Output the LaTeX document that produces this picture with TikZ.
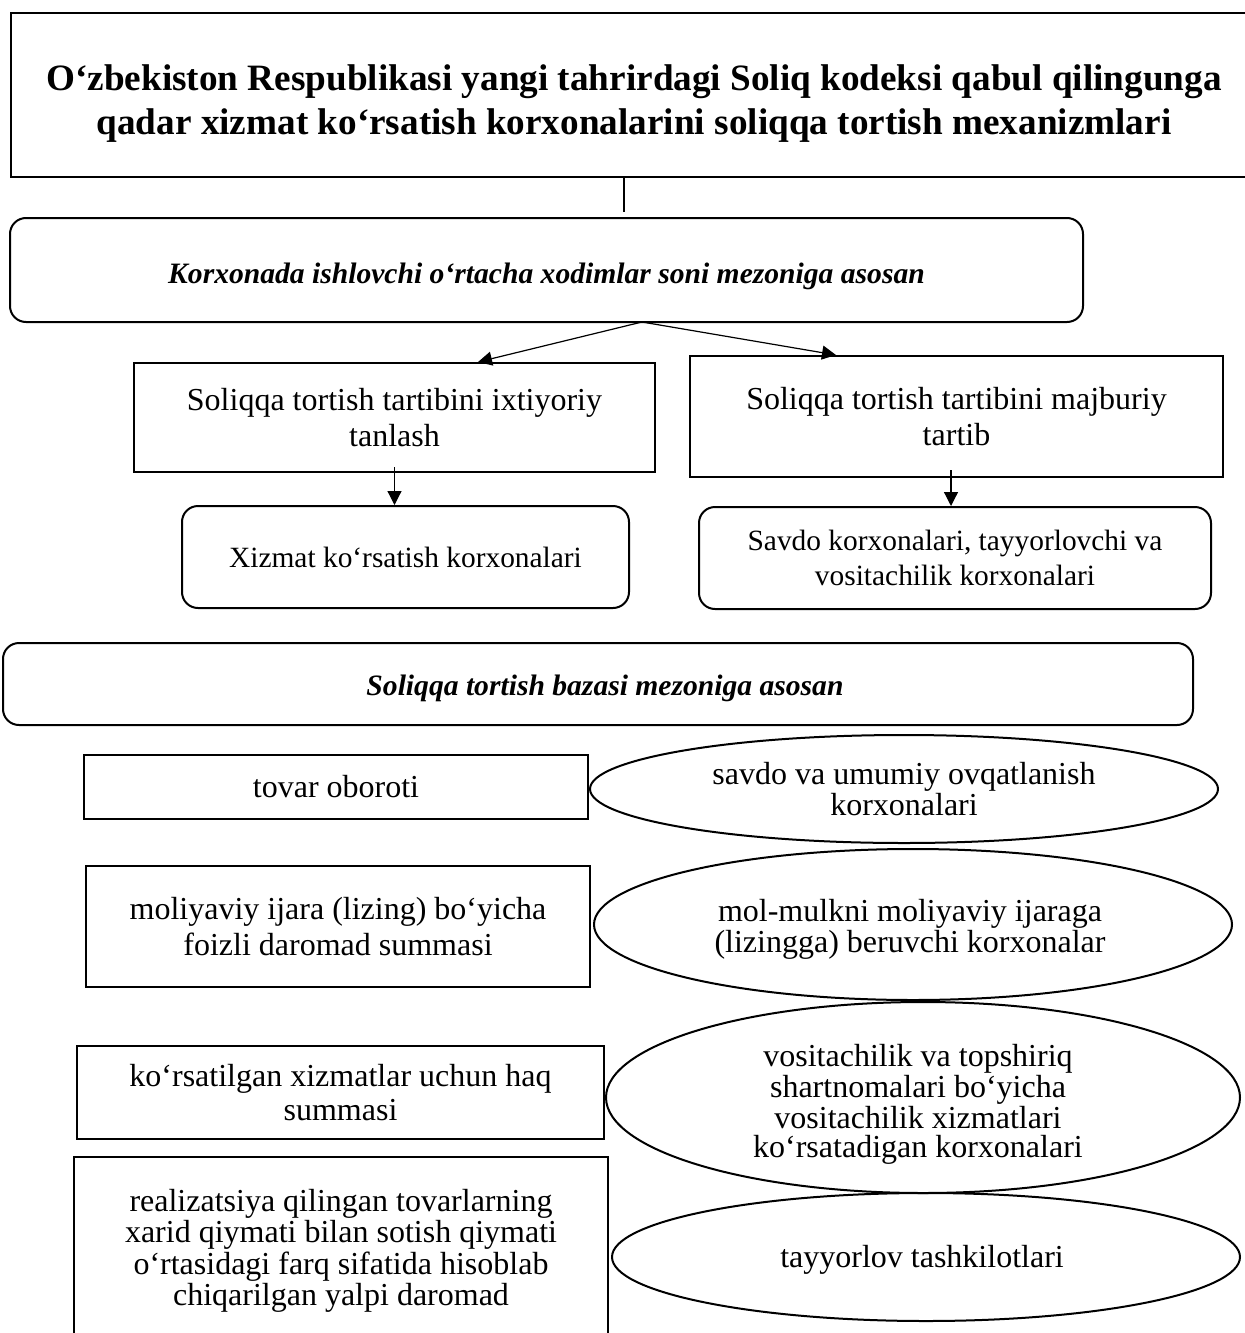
\documentclass[tikz,border=0pt]{standalone}
\usepackage{fontspec}
\setmainfont{Liberation Serif}
\usetikzlibrary{arrows.meta,shapes.geometric,calc}
\begin{document}
\begin{tikzpicture}[x=0.5pt,y=-0.5pt,
  frame/.style={draw,line width=1pt,inner sep=0pt,align=center,font=\fontsize{16}{18}\selectfont},
  roundframe/.style={frame,rounded corners=8pt,font=\fontsize{14.7}{17.5}\selectfont},
  oval/.style={draw,ellipse,line width=1pt,inner sep=0pt,align=center,font=\fontsize{16}{14}\selectfont},
  caption/.style={inner sep=0pt,align=center},
  link/.style={line width=0.6pt},
  arr/.style={link,-{Triangle[length=7pt,width=7pt]}}]
\useasboundingbox (0,0) rectangle (1244,1333);
\fill[white] (0,0) rectangle (1244,1333);

% heading
\node[frame,minimum width=622.5pt,minimum height=82pt] (title) at (633.5,95) {};
\node[caption,font=\bfseries\fontsize{18.6}{22}\selectfont] (titletext) at (634,104)
  {O‘zbekiston Respublikasi yangi tahrirdagi Soliq kodeksi qabul qilingunga\\
   qadar xizmat ko‘rsatish korxonalarini soliqqa tortish mexanizmlari};

% first criterion
\node[roundframe,minimum width=536.5pt,minimum height=52pt] (crit1) at (546.5,270) {};
\node[caption,font=\bfseries\itshape\fontsize{14.8}{17}\selectfont] (crit1text) at (546.5,276)
  {Korxonada ishlovchi o‘rtacha xodimlar soni mezoniga asosan};

\node[frame,minimum width=260.5pt,minimum height=54.5pt] (vol) at (394.5,417.5)
  {Soliqqa tortish tartibini ixtiyoriy\\tanlash};
\node[frame,minimum width=266.5pt,minimum height=60.5pt] (mand) at (956.5,416.5)
  {Soliqqa tortish tartibini majburiy\\tartib};

\node[roundframe,minimum width=223.5pt,minimum height=51pt] (serv) at (405.5,557)
  {Xizmat ko‘rsatish korxonalari};
\node[roundframe,minimum width=256pt,minimum height=51pt] (trade) at (955,558)
  {Savdo korxonalari, tayyorlovchi va\\vositachilik korxonalari};

% second criterion
\node[roundframe,minimum width=595pt,minimum height=41pt] (crit2) at (598,684) {};
\node[caption,font=\bfseries\itshape\fontsize{14.8}{17}\selectfont] (crit2text) at (605,688)
  {Soliqqa tortish bazasi mezoniga asosan};

\node[frame,minimum width=252pt,minimum height=32pt] (b1) at (336,787)
  {tovar oboroti};
\node[oval,minimum width=314pt,minimum height=54pt] (e1) at (904,789)
  {savdo va umumiy ovqatlanish\\korxonalari};

\node[frame,minimum width=252pt,minimum height=60.5pt] (b2) at (338,926.5)
  {moliyaviy ijara (lizing) bo‘yicha\\foizli daromad summasi};
\node[oval,minimum width=319pt,minimum height=75.5pt] (e2) at (913,924.5) {};
\node[caption,font=\fontsize{16}{14}\selectfont] (e2text) at (910,929)
  {mol-mulkni moliyaviy ijaraga\\(lizingga) beruvchi korxonalar};

\node[frame,minimum width=263.5pt,minimum height=46.5pt,
  font=\fontsize{16}{17}\selectfont] (b3) at (340.5,1092.5)
  {ko‘rsatilgan xizmatlar uchun haq\\summasi};
\node[oval,minimum width=317pt,minimum height=95.5pt] (e3) at (923,1097.5) {};
\node[caption,font=\fontsize{16}{14.5}\selectfont] (e3text) at (918,1104)
  {vositachilik va topshiriq\\shartnomalari bo‘yicha\\vositachilik xizmatlari\\ko‘rsatadigan korxonalari};

\node[frame,minimum width=267pt,minimum height=94pt,
  font=\fontsize{16}{14}\selectfont] (b4) at (341,1251)
  {realizatsiya qilingan tovarlarning\\xarid qiymati bilan sotish qiymati\\o‘rtasidagi farq sifatida hisoblab\\chiqarilgan yalpi daromad};
\node[oval,minimum width=314pt,minimum height=64pt] (e4) at (926,1257) {};
\node[caption,font=\fontsize{16}{14}\selectfont] (e4text) at (922,1260)
  {tayyorlov tashkilotlari};

% connectors
\coordinate (stem) at (624,212);
\draw[link] (title.south -| stem) -- (stem);

\coordinate (fork) at (642,322);
\coordinate (xL) at (478,0);
\coordinate (xR) at (836,0);
\draw[arr] (fork) -- (vol.north -| xL);
\draw[arr] (fork) -- (mand.north -| xR);

\draw[arr] ([yshift=3pt]vol.south) -- (serv.north -| vol.south);
\coordinate (xM) at (951,0);
\draw[arr] ([yshift=4pt]mand.south -| xM) -- (trade.north -| xM);
\end{tikzpicture}
\end{document}
